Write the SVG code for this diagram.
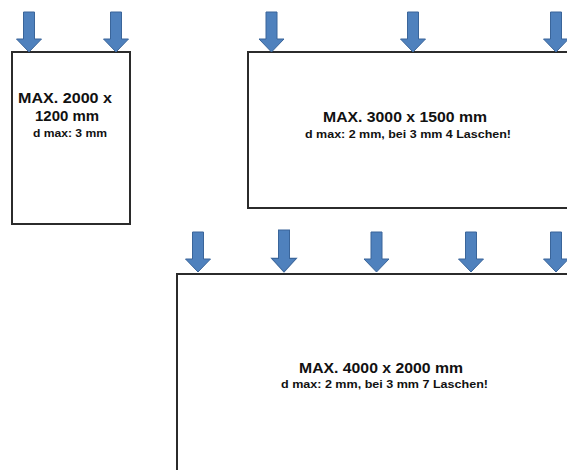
<svg xmlns="http://www.w3.org/2000/svg" xmlns:xlink="http://www.w3.org/1999/xlink" width="567" height="470" viewBox="0 0 567 470">
  <style>
    .box { fill: #ffffff; stroke: #2b2b2b; stroke-width: 2; }
    .arrow { fill: #4f81bd; stroke: #3a659a; stroke-width: 1; stroke-linejoin: miter; }
    .main { font-family: "Liberation Sans", Arial, sans-serif; font-weight: bold; font-size: 15.5px; fill: #111111; text-anchor: middle; }
    .sub { font-family: "Liberation Sans", Arial, sans-serif; font-weight: bold; font-size: 11.5px; fill: #111111; text-anchor: middle; }
  </style>
  <defs>
    <path id="arr" d="M -5.5 -40 L 5.5 -40 L 5.5 -13 L 12.5 -13 L 0 0 L -12.5 -13 L -5.5 -13 Z"/>
  </defs>
  <rect width="567" height="470" fill="#ffffff"/>

  <g id="panel-small">
    <rect class="box" x="12" y="52" width="118" height="172"/>
    <text class="main" x="65" y="103" textLength="94" lengthAdjust="spacingAndGlyphs">MAX. 2000 x</text>
    <text class="main" x="67" y="121" textLength="64" lengthAdjust="spacingAndGlyphs">1200 mm</text>
    <text class="sub" x="70" y="137" textLength="74" lengthAdjust="spacingAndGlyphs">d max: 3 mm</text>
  </g>

  <g id="panel-medium">
    <rect class="box" x="248" y="52" width="330" height="156"/>
    <text class="main" x="405" y="121.5" textLength="164" lengthAdjust="spacingAndGlyphs">MAX. 3000 x 1500 mm</text>
    <text class="sub" x="408" y="138" textLength="206" lengthAdjust="spacingAndGlyphs">d max: 2 mm, bei 3 mm 4 Laschen!</text>
  </g>

  <g id="panel-large">
    <rect class="box" x="177" y="274" width="400" height="210"/>
    <text class="main" x="381" y="373" textLength="164" lengthAdjust="spacingAndGlyphs">MAX. 4000 x 2000 mm</text>
    <text class="sub" x="384.5" y="388" textLength="207" lengthAdjust="spacingAndGlyphs">d max: 2 mm, bei 3 mm 7 Laschen!</text>
  </g>

  <g id="connectors">
    <use href="#arr" xlink:href="#arr" class="arrow" transform="translate(29,52)"/>
    <use href="#arr" xlink:href="#arr" class="arrow" transform="translate(116,52)"/>
    <use href="#arr" xlink:href="#arr" class="arrow" transform="translate(271.5,52)"/>
    <use href="#arr" xlink:href="#arr" class="arrow" transform="translate(413,52)"/>
    <use href="#arr" xlink:href="#arr" class="arrow" transform="translate(556,52)"/>
    <use href="#arr" xlink:href="#arr" class="arrow" transform="translate(198,272)"/>
    <use href="#arr" xlink:href="#arr" class="arrow" transform="translate(284,272) scale(1,1.05)"/>
    <use href="#arr" xlink:href="#arr" class="arrow" transform="translate(376.5,272)"/>
    <use href="#arr" xlink:href="#arr" class="arrow" transform="translate(471,272)"/>
    <use href="#arr" xlink:href="#arr" class="arrow" transform="translate(556,272)"/>
  </g>
</svg>
